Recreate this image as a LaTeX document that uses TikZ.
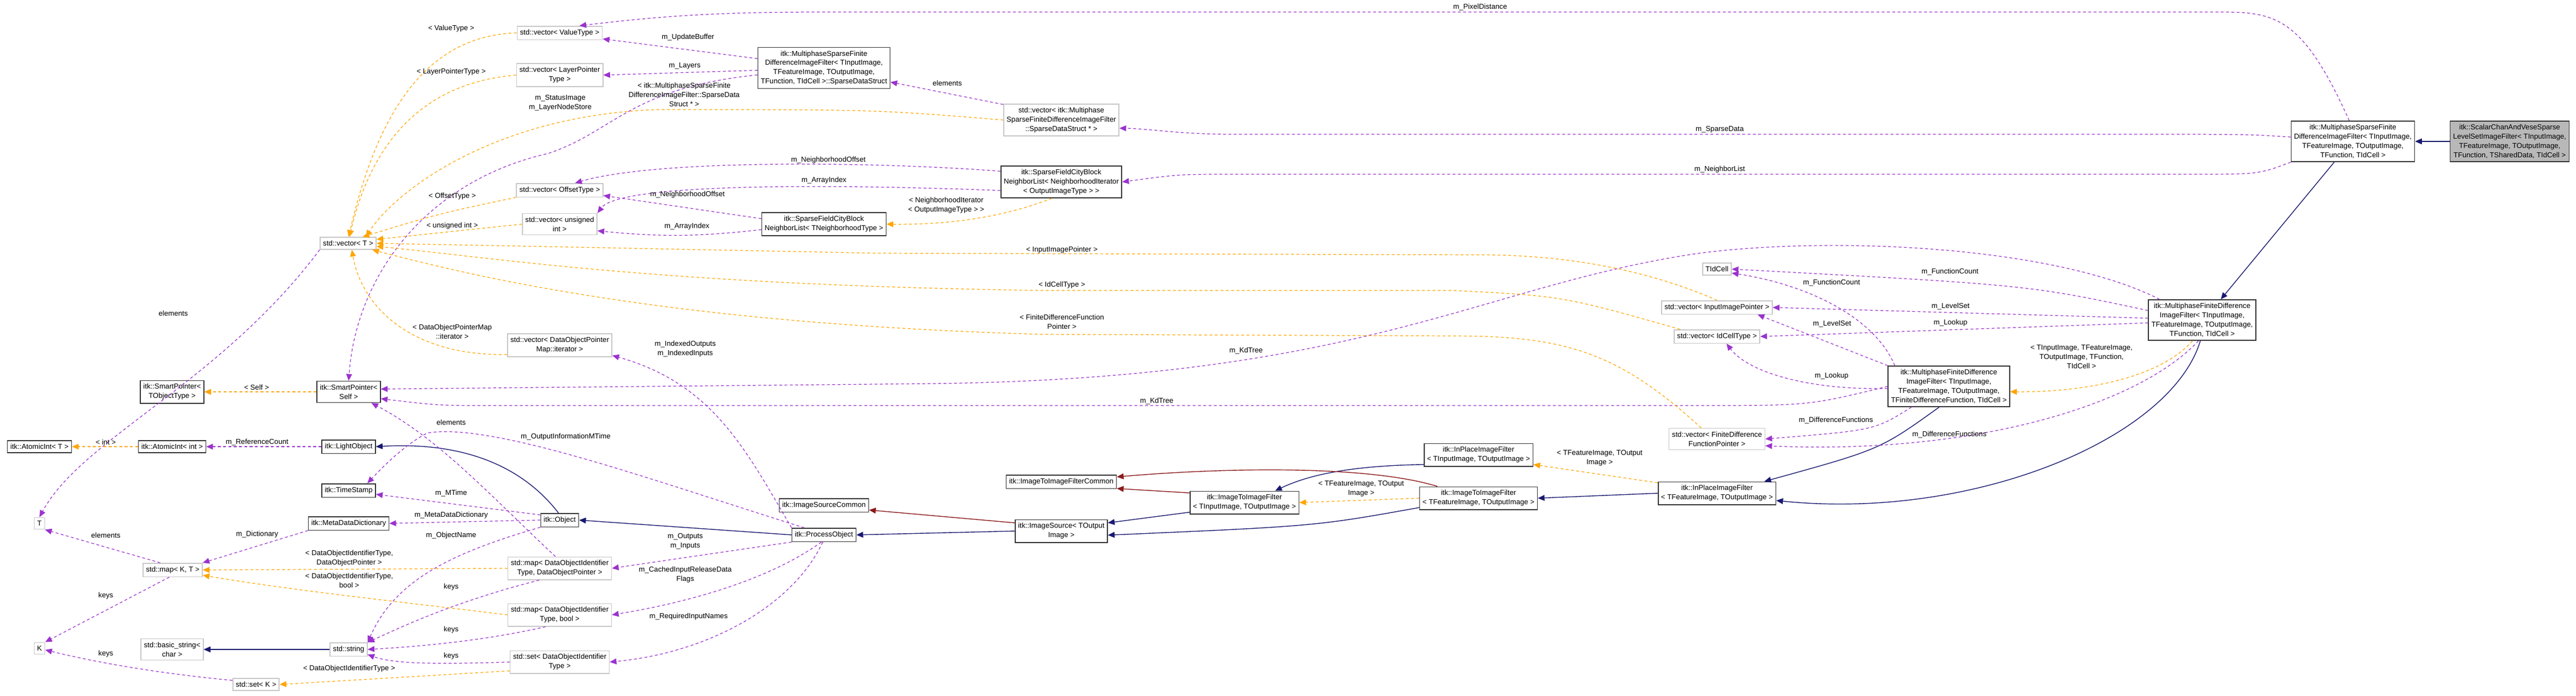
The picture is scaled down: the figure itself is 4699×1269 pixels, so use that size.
\documentclass[tikz,border=0pt]{standalone}
\usepackage{fontspec}
\setmainfont{Liberation Sans}
\usetikzlibrary{arrows.meta}

\definecolor{usecol}{HTML}{9A32CD}
\definecolor{tplcol}{HTML}{FFA500}
\definecolor{pubcol}{HTML}{191970}
\definecolor{protcol}{HTML}{8B1A1A}

\tikzset{
  box/.style={draw, line width=0.9pt, inner xsep=3pt, inner ysep=3.5pt, align=center,
    font=\fontsize{7.5}{9.6}\selectfont},
  cls/.style={box, draw=black!80},
  tpl/.style={box, draw=black!22},
  mainbox/.style={box, draw=black!80, fill=black!28},
  lbl/.style={align=center, inner sep=0pt, font=\fontsize{7.5}{9.6}\selectfont},
  tip/.style={-{Triangle[length=7pt,width=6pt]}},
  uses/.style={tip, draw=usecol, line width=0.7pt, dashed, dash pattern=on 3pt off 2.5pt},
  inst/.style={tip, draw=tplcol, line width=0.7pt, dashed, dash pattern=on 3pt off 2.5pt},
  inherit/.style={tip, draw=pubcol, line width=0.8pt},
  protinh/.style={tip, draw=protcol, line width=0.8pt}
}

\begin{document}
\begin{tikzpicture}[x=0.02cm, y=0.02cm]

    \useasboundingbox (0,0) rectangle (4699,-1269);

    % Classes
    \node[mainbox] (scalar) at (4578,-258) {itk::ScalarChanAndVeseSparse\\LevelSetImageFilter< TInputImage,\\ TFeatureImage, TOutputImage,\\ TFunction, TSharedData, TIdCell >};
    \node[cls] (msfdif) at (4292,-258) {itk::MultiphaseSparseFinite\\DifferenceImageFilter< TInputImage,\\ TFeatureImage, TOutputImage,\\ TFunction, TIdCell >};
    \node[cls] (mfdifT) at (4017,-584) {itk::MultiphaseFiniteDifference\\ImageFilter< TInputImage,\\ TFeatureImage, TOutputImage,\\ TFunction, TIdCell >};
    \node[cls] (mfdifF) at (3555,-705) {itk::MultiphaseFiniteDifference\\ImageFilter< TInputImage,\\ TFeatureImage, TOutputImage,\\ TFiniteDifferenceFunction, TIdCell >};
    \node[cls] (sdstruct) at (1503,-124) {itk::MultiphaseSparseFinite\\DifferenceImageFilter< TInputImage,\\ TFeatureImage, TOutputImage,\\ TFunction, TIdCell >::SparseDataStruct};
    \node[cls] (cbIter) at (1936,-332) {itk::SparseFieldCityBlock\\NeighborList< NeighborhoodIterator\\< OutputImageType > >};
    \node[cls] (cbType) at (1503,-409) {itk::SparseFieldCityBlock\\NeighborList< TNeighborhoodType >};
    \node[cls] (inplFeat) at (3132,-900) {itk::InPlaceImageFilter\\< TFeatureImage, TOutputImage >};
    \node[cls] (inplIn) at (2697,-830) {itk::InPlaceImageFilter\\< TInputImage, TOutputImage >};
    \node[cls] (itoiFeat) at (2697,-909) {itk::ImageToImageFilter\\< TFeatureImage, TOutputImage >};
    \node[cls] (itoiIn) at (2270,-917) {itk::ImageToImageFilter\\< TInputImage, TOutputImage >};
    \node[cls] (itoiCommon) at (1936,-879) {itk::ImageToImageFilterCommon};
    \node[cls] (imgSource) at (1936,-969) {itk::ImageSource< TOutput\\Image >};
    \node[cls] (srcCommon) at (1503,-922) {itk::ImageSourceCommon};
    \node[cls] (procObj) at (1503,-976) {itk::ProcessObject};
    \node[cls] (object) at (1021,-949) {itk::Object};
    \node[cls] (lightObj) at (636,-815) {itk::LightObject};
    \node[cls] (timeStamp) at (636,-895) {itk::TimeStamp};
    \node[cls] (metaDict) at (636,-955) {itk::MetaDataDictionary};
    \node[cls] (spSelf) at (636,-715) {itk::SmartPointer<\\Self >};
    \node[cls] (spObj) at (314,-715) {itk::SmartPointer<\\TObjectType >};
    \node[cls] (atomInt) at (314,-815) {itk::AtomicInt< int >};
    \node[cls] (atomT) at (72,-815) {itk::AtomicInt< T >};

    % Containers and template arguments
    \node[tpl] (vecValue) at (1021,-60) {std::vector< ValueType >};
    \node[tpl] (vecLayer) at (1021,-137) {std::vector< LayerPointer\\Type >};
    \node[tpl] (vecSparse) at (1936,-219) {std::vector< itk::Multiphase\\SparseFiniteDifferenceImageFilter\\::SparseDataStruct * >};
    \node[tpl] (vecOffset) at (1021,-347) {std::vector< OffsetType >};
    \node[tpl] (vecUInt) at (1021,-409) {std::vector< unsigned\\int >};
    \node[tpl] (vecT) at (635,-444) {std::vector< T >};
    \node[tpl] (vecIter) at (1021,-630) {std::vector< DataObjectPointer\\Map::iterator >};
    \node[tpl] (idCell) at (3132,-491) {TIdCell};
    \node[tpl] (vecInput) at (3132,-561) {std::vector< InputImagePointer >};
    \node[tpl] (vecIdCell) at (3132,-614) {std::vector< IdCellType >};
    \node[tpl] (vecFunc) at (3132,-801) {std::vector< FiniteDifference\\FunctionPointer >};
    \node[tpl] (tT) at (72,-955) {T};
    \node[tpl] (tK) at (72,-1183) {K};
    \node[tpl] (mapKT) at (315,-1040) {std::map< K, T >};
    \node[tpl] (mapPtr) at (1021,-1037) {std::map< DataObjectIdentifier\\Type, DataObjectPointer >};
    \node[tpl] (mapBool) at (1021,-1122) {std::map< DataObjectIdentifier\\Type, bool >};
    \node[tpl] (setId) at (1021,-1208) {std::set< DataObjectIdentifier\\Type >};
    \node[tpl] (basicStr) at (314,-1185) {std::basic\_string<\\char >};
    \node[tpl] (stdStr) at (636,-1185) {std::string};
    \node[tpl] (setK) at (467,-1249) {std::set< K >};

    % Inheritance
    \draw[inherit] (scalar.west) -- (msfdif.east);
    \draw[inherit] (msfdif.-132) -- (mfdifT.48);
    \draw[inherit] (mfdifT.-95) .. controls (3960,-800) and (3600,-950) .. (inplFeat.-7);
    \draw[inherit] (mfdifF.-115) .. controls (3430,-820) .. (inplFeat.14);
    \draw[inherit] (inplFeat.west) -- (itoiFeat.east);
    \draw[inherit] (inplIn.190) .. controls (2450,-850) and (2380,-870) .. (itoiIn.21);
    \draw[inherit] (itoiFeat.189) .. controls (2400,-960) .. (imgSource.-5);
    \draw[inherit] (itoiIn.-170) -- (imgSource.10);
    \draw[inherit] (imgSource.west) -- (procObj.east);
    \draw[inherit] (procObj.west) -- (object.east);
    \draw[inherit] (object.100) .. controls (960,-860) and (860,-805) .. (lightObj.east);
    \draw[inherit] (stdStr.west) -- (basicStr.east);
    \draw[protinh] (imgSource.170) -- (srcCommon.-6);
    \draw[protinh] (itoiIn.170) -- (itoiCommon.-7);
    \draw[protinh] (itoiFeat.164) .. controls (2500,-850) and (2250,-852) .. (itoiCommon.5);

    % Members
    \draw[uses] (msfdif.100) .. controls (4200,-30) and (4150,-22) .. (4050,-22) -- (1500,-22) .. controls (1300,-22) and (1200,-30) .. (vecValue.20);
    \draw[uses] (sdstruct.172) -- (vecValue.-8);
    \draw[uses] (sdstruct.182) -- (vecLayer.east);
    \draw[uses] (sdstruct.186) .. controls (1150,-160) and (1120,-240) .. (1000,-280) .. controls (780,-330) and (650,-500) .. (spSelf.north);
    \draw[uses] (vecSparse.165) -- (sdstruct.-12);
    \draw[uses] (msfdif.176) .. controls (4100,-245) .. (3900,-245) -- (2250,-245) .. controls (2150,-245) and (2100,-235) .. (vecSparse.-8);
    \draw[uses] (msfdif.south west) .. controls (4120,-318) .. (4000,-318) -- (2250,-318) .. controls (2150,-318) .. (cbIter.east);
    \draw[uses] (cbIter.170) .. controls (1600,-295) and (1200,-290) .. (vecOffset.25);
    \draw[uses] (cbIter.188) .. controls (1500,-335) and (1130,-335) .. (vecUInt.north east);
    \draw[uses] (cbType.175) -- (vecOffset.-7);
    \draw[uses] (cbType.185) to[bend left=6] (vecUInt.-10);
    \draw[uses] (vecT.south west) .. controls (400,-700) and (150,-800) .. (tT.north);
    \draw[uses] (mfdifT.154) .. controls (3750,-450) and (3350,-430) .. (3100,-462) .. controls (2700,-520) and (2500,-690) .. (1700,-700) -- (spSelf.5);
    \draw[uses] (mfdifF.west) .. controls (3300,-740) .. (3100,-740) -- (900,-740) .. controls (800,-740) .. (spSelf.-12);
    \draw[uses] (mfdifT.170) .. controls (3700,-520) .. (idCell.east);
    \draw[uses] (mfdifF.159) .. controls (3420,-580) and (3300,-520) .. (idCell.-15);
    \draw[uses] (mfdifT.178) -- (vecInput.east);
    \draw[uses] (mfdifF.north west) -- (vecInput.-10);
    \draw[uses] (mfdifT.183) -- (vecIdCell.east);
    \draw[uses] (mfdifF.182) .. controls (3300,-712) and (3190,-680) .. (vecIdCell.-37);
    \draw[uses] (mfdifF.-151) .. controls (3420,-785) .. (vecFunc.east);
    \draw[uses] (mfdifT.-100) .. controls (3900,-740) and (3600,-830) .. (vecFunc.-8);
    \draw[uses] (lightObj.west) -- (atomInt.east);
    \draw[uses] (object.165) -- (timeStamp.-8);
    \draw[uses] (object.west) -- (metaDict.east);
    \draw[uses] (object.south west) .. controls (820,-1010) and (720,-1060) .. (stdStr.20);
    \draw[uses] (metaDict.south west) -- (mapKT.north east);
    \draw[uses] (mapKT.150) -- (tT.south east);
    \draw[uses] (mapKT.-115) -- (tK.north east);
    \draw[uses] (setK.170) .. controls (300,-1230) and (180,-1210) .. (tK.-15);
    \draw[uses] (mapPtr.-150) .. controls (820,-1100) and (720,-1150) .. (stdStr.north east);
    \draw[uses] (mapBool.-140) .. controls (880,-1170) and (760,-1180) .. (stdStr.east);
    \draw[uses] (setId.west) .. controls (800,-1212) and (720,-1212) .. (stdStr.-15);
    \draw[uses] (mapPtr.110) .. controls (890,-900) and (800,-800) .. (spSelf.-26);
    \draw[uses] (procObj.160) .. controls (1200,-880) and (900,-770) .. (780,-790) .. controls (740,-810) and (700,-850) .. (timeStamp.21);
    \draw[uses] (procObj.north west) .. controls (1360,-820) and (1300,-700) .. (vecIter.-11);
    \draw[uses] (procObj.south west) .. controls (1300,-1010) .. (mapPtr.east);
    \draw[uses] (procObj.-110) .. controls (1400,-1060) and (1250,-1100) .. (mapBool.east);
    \draw[uses] (procObj.-100) .. controls (1450,-1100) and (1300,-1190) .. (setId.east);

    % Template instances
    \draw[inst] (vecValue.west) .. controls (780,-65) and (690,-200) .. (vecT.86);
    \draw[inst] (vecLayer.west) .. controls (780,-150) and (680,-250) .. (vecT.78);
    \draw[inst] (vecSparse.west) .. controls (1600,-200) .. (1200,-200) .. controls (900,-210) and (720,-350) .. (vecT.20);
    \draw[inst] (vecOffset.south west) .. controls (800,-390) .. (vecT.24);
    \draw[inst] (vecUInt.west) -- (vecT.8);
    \draw[inst] (vecInput.north) .. controls (3000,-490) and (2850,-465) .. (2700,-465) -- (1600,-462) .. controls (1000,-450) .. (vecT.0);
    \draw[inst] (vecIdCell.169) .. controls (2850,-540) .. (2650,-530) -- (1900,-530) .. controls (1200,-520) and (900,-470) .. (vecT.-6);
    \draw[inst] (vecFunc.145) .. controls (2950,-640) and (2850,-613) .. (2650,-613) -- (1900,-610) .. controls (1200,-590) and (850,-500) .. (vecT.-15);
    \draw[inst] (vecIter.-170) .. controls (750,-650) and (660,-560) .. (vecT.-60);
    \draw[inst] (cbIter.-120) .. controls (1820,-400) and (1720,-410) .. (cbType.east);
    \draw[inst] (spSelf.west) -- (spObj.east);
    \draw[inst] (atomInt.west) -- (atomT.east);
    \draw[inst] (mapPtr.west) -- (mapKT.east);
    \draw[inst] (mapBool.west) .. controls (750,-1100) and (550,-1080) .. (mapKT.-10);
    \draw[inst] (setId.-170) -- (setK.east);
    \draw[inst] (itoiFeat.west) -- (itoiIn.east);
    \draw[inst] (inplFeat.170) -- (inplIn.-10);
    \draw[inst] (mfdifT.-115) .. controls (3940,-690) and (3800,-716) .. (mfdifF.-5);

    % Labels
    \node[lbl] (lPixel) at (2700,-13) {m\_PixelDistance};
    \node[lbl] (lUpdate) at (1255,-68) {m\_UpdateBuffer};
    \node[lbl] (lLayers) at (1249,-120) {m\_Layers};
    \node[lbl] (lStatus) at (1022,-188) {m\_StatusImage\\m\_LayerNodeStore};
    \node[lbl] (lElemSds) at (1728,-152) {elements};
    \node[lbl] (lSparse) at (3137,-236) {m\_SparseData};
    \node[lbl] (lNbList) at (3137,-309) {m\_NeighborList};
    \node[lbl] (lNbOffA) at (1511,-292) {m\_NeighborhoodOffset};
    \node[lbl] (lArrA) at (1503,-329) {m\_ArrayIndex};
    \node[lbl] (lNbOffB) at (1254,-355) {m\_NeighborhoodOffset};
    \node[lbl] (lArrB) at (1253,-413) {m\_ArrayIndex};
    \node[lbl] (lElemT) at (316,-572) {elements};
    \node[lbl] (lIndexed) at (1250,-637) {m\_IndexedOutputs\\m\_IndexedInputs};
    \node[lbl] (lKdA) at (2273,-640) {m\_KdTree};
    \node[lbl] (lKdB) at (2110,-732) {m\_KdTree};
    \node[lbl] (lFcA) at (3557,-496) {m\_FunctionCount};
    \node[lbl] (lFcB) at (3341,-516) {m\_FunctionCount};
    \node[lbl] (lLsA) at (3558,-559) {m\_LevelSet};
    \node[lbl] (lLsB) at (3342,-591) {m\_LevelSet};
    \node[lbl] (lLkA) at (3558,-589) {m\_Lookup};
    \node[lbl] (lLkB) at (3341,-686) {m\_Lookup};
    \node[lbl] (lDfB) at (3349,-767) {m\_DifferenceFunctions};
    \node[lbl] (lDfA) at (3556,-793) {m\_DifferenceFunctions};
    \node[lbl] (lRef) at (469,-807) {m\_ReferenceCount};
    \node[lbl] (lElemSp) at (823,-771) {elements};
    \node[lbl] (lOutInfo) at (1032,-797) {m\_OutputInformationMTime};
    \node[lbl] (lMTime) at (823,-900) {m\_MTime};
    \node[lbl] (lMeta) at (823,-940) {m\_MetaDataDictionary};
    \node[lbl] (lElemMap) at (193,-977) {elements};
    \node[lbl] (lDict) at (469,-975) {m\_Dictionary};
    \node[lbl] (lName) at (823,-977) {m\_ObjectName};
    \node[lbl] (lOutputs) at (1250,-988) {m\_Outputs\\m\_Inputs};
    \node[lbl] (lCached) at (1250,-1049) {m\_CachedInputReleaseData\\Flags};
    \node[lbl] (lKeysA) at (823,-1071) {keys};
    \node[lbl] (lKeysMap) at (193,-1087) {keys};
    \node[lbl] (lReq) at (1256,-1125) {m\_RequiredInputNames};
    \node[lbl] (lKeysB) at (823,-1149) {keys};
    \node[lbl] (lKeysSet) at (193,-1193) {keys};
    \node[lbl] (lKeysC) at (823,-1197) {keys};

    \node[lbl] (tValue) at (823,-52) {< ValueType >};
    \node[lbl] (tLayer) at (823,-131) {< LayerPointerType >};
    \node[lbl] (tSparse) at (1248,-173) {< itk::MultiphaseSparseFinite\\DifferenceImageFilter::SparseData\\Struct * >};
    \node[lbl] (tOffset) at (825,-358) {< OffsetType >};
    \node[lbl] (tUInt) at (825,-412) {< unsigned int >};
    \node[lbl] (tIter) at (825,-605) {< DataObjectPointerMap\\::iterator >};
    \node[lbl] (tNbIter) at (1726,-375) {< NeighborhoodIterator\\< OutputImageType > >};
    \node[lbl] (tInput) at (1937,-456) {< InputImagePointer >};
    \node[lbl] (tIdCell) at (1937,-520) {< IdCellType >};
    \node[lbl] (tFunc) at (1937,-587) {< FiniteDifferenceFunction\\Pointer >};
    \node[lbl] (tSelf) at (468,-707) {< Self >};
    \node[lbl] (tInt) at (193,-807) {< int >};
    \node[lbl] (tMapPtr) at (637,-1019) {< DataObjectIdentifierType,\\DataObjectPointer >};
    \node[lbl] (tMapBool) at (637,-1059) {< DataObjectIdentifierType,\\bool >};
    \node[lbl] (tSetId) at (637,-1220) {< DataObjectIdentifierType >};
    \node[lbl] (tItoi) at (2483,-892) {< TFeatureImage, TOutput\\Image >};
    \node[lbl] (tInpl) at (2918,-836) {< TFeatureImage, TOutput\\Image >};
    \node[lbl] (tMfdif) at (3797,-651) {< TInputImage, TFeatureImage,\\TOutputImage, TFunction,\\TIdCell >};

\end{tikzpicture}
\end{document}
